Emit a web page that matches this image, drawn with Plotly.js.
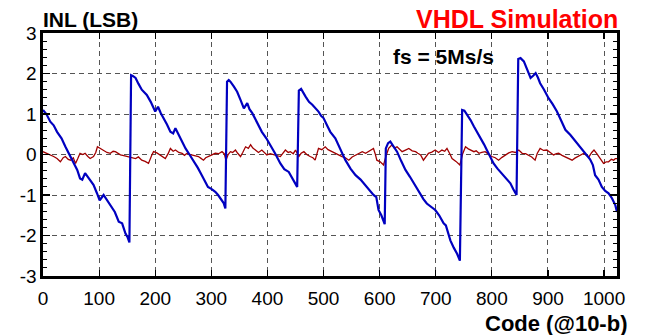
<!DOCTYPE html>
<html><head><meta charset="utf-8">
<script src="https://cdn.plot.ly/plotly-3.0.1.min.js"></script>
<style>html,body{margin:0;padding:0;background:#fff}#chart{width:646px;height:335px}</style>
</head><body><div id="chart"></div>
<script>
// Blue INL curve (code, LSB)
const blueCode = [0,6,13,19,25,33,40,49,55,61,66,70,75,80,90,96,101,108,114,120,128,135,141,147,151,154,157,160,165,170,176,185,192,200,205,210,215,221,227,232,236,241,248,254,261,268,276,283,288,294,300,307,312,316,322,325,328,331,334,340,346,352,358,364,368,373,381,390,398,405,414,423,430,438,445,453,456,460,468,474,480,485,491,496,500,507,512,521,530,539,548,557,566,574,582,589,594,598,603,609,611,615,619,625,631,638,646,654,661,670,678,684,692,699,706,714,718,722,726,732,738,743,747,751,756,762,768,774,780,786,791,797,803,810,818,826,833,838,844,847,851,857,863,869,874,878,882,886,893,901,908,916,923,931,940,949,958,967,975,980,984,990,996,1002,1008,1014,1020,1023];
const blueINL = [1.10,1.00,0.81,0.72,0.56,0.40,0.19,-0.05,-0.22,-0.38,-0.59,-0.62,-0.46,-0.56,-0.75,-0.95,-1.13,-1.00,-1.12,-1.25,-1.42,-1.66,-1.70,-1.95,-2.05,-2.17,1.96,1.94,1.89,1.75,1.60,1.47,1.30,1.06,1.18,1.02,0.90,0.74,0.56,0.52,0.65,0.50,0.32,0.15,0.00,-0.14,-0.33,-0.51,-0.66,-0.80,-0.85,-0.92,-1.00,-1.08,-1.20,-1.33,1.80,1.84,1.80,1.68,1.55,1.35,1.14,1.27,1.12,1.02,0.80,0.56,0.40,0.24,0.02,-0.22,-0.36,-0.43,-0.60,-0.80,1.58,1.62,1.43,1.30,1.23,1.15,1.06,0.95,0.90,0.70,0.56,0.40,0.12,-0.14,-0.35,-0.51,-0.62,-0.75,-0.86,-1.00,-1.05,-1.37,-1.50,-1.72,0.15,0.28,0.32,0.20,0.07,-0.15,-0.38,-0.55,-0.71,-0.95,-1.10,-1.21,-1.30,-1.37,-1.50,-1.70,-1.75,-1.95,-2.12,-2.30,-2.45,-2.62,1.10,1.08,0.98,0.85,0.69,0.55,0.40,0.25,0.11,-0.05,-0.22,-0.35,-0.47,-0.60,-0.71,-0.85,-1.00,2.36,2.38,2.30,2.10,1.89,1.95,2.01,1.90,1.76,1.60,1.39,1.25,1.06,0.85,0.61,0.48,0.32,0.18,0.03,-0.12,-0.26,-0.51,-0.62,-0.80,-0.90,-0.96,-1.08,-1.25,-1.42];
// Dark red INL curve
const redCode = [0,7,13,19,25,31,36,40,45,49,54,58,62,66,71,75,80,84,90,94,97,102,108,114,120,125,129,134,138,144,150,156,161,165,170,176,182,188,194,197,203,209,214,218,223,227,232,236,242,248,252,257,261,265,271,277,281,286,290,295,301,307,313,319,323,326,330,334,338,343,347,352,356,361,366,370,374,378,384,390,395,399,405,411,417,423,428,432,437,441,446,450,456,460,465,470,476,481,485,491,497,503,508,515,521,527,533,539,545,551,557,563,569,575,580,585,589,592,595,601,607,611,616,622,626,631,636,640,646,652,658,664,668,673,678,683,687,693,699,705,711,716,720,725,729,736,743,748,753,758,762,768,772,777,782,788,794,800,806,812,818,824,830,836,842,848,854,860,865,871,877,881,886,892,898,904,910,915,919,925,931,937,943,948,952,958,964,968,973,978,982,987,991,995,999,1004,1008,1013,1017,1020,1023];
const redINL = [0.07,0.03,-0.02,-0.05,-0.10,-0.18,-0.08,-0.05,-0.12,-0.14,-0.08,-0.22,-0.10,0.03,0.00,0.03,-0.05,-0.10,-0.05,0.05,0.19,0.15,0.11,0.05,0.03,0.08,0.07,0.02,-0.01,-0.03,-0.05,-0.08,-0.10,-0.10,-0.06,-0.14,-0.17,-0.22,-0.01,0.07,0.04,-0.01,-0.06,-0.10,0.02,0.15,0.08,0.11,0.05,0.03,-0.02,0.03,0.00,-0.01,-0.02,-0.05,-0.09,-0.14,-0.08,-0.05,0.00,0.03,0.02,0.07,0.02,-0.14,0.00,0.07,0.05,0.11,0.03,-0.05,0.05,0.19,0.15,0.24,0.16,0.11,0.05,0.11,0.04,-0.01,0.02,-0.01,-0.03,-0.05,0.03,0.11,0.05,0.07,0.02,0.11,-0.05,0.03,0.07,0.00,-0.05,-0.08,-0.14,0.15,0.12,0.19,0.12,0.07,0.02,-0.01,-0.05,-0.08,-0.14,-0.06,-0.01,0.03,0.07,0.03,0.07,0.10,0.15,0.02,-0.14,-0.18,-0.26,-0.05,0.15,0.24,0.16,0.19,0.12,0.07,0.11,0.15,0.09,0.07,0.03,-0.01,-0.14,-0.05,0.03,0.06,0.11,0.05,0.11,0.08,0.15,0.02,-0.10,-0.17,-0.26,0.02,0.19,0.14,0.11,0.07,0.09,0.03,0.05,0.07,0.01,-0.05,-0.08,-0.14,-0.07,-0.01,0.04,0.07,0.05,0.11,0.03,0.02,-0.01,-0.06,-0.14,0.03,0.15,0.10,0.11,0.04,-0.01,0.02,0.03,-0.02,-0.06,-0.10,-0.14,-0.09,-0.06,0.00,0.03,-0.02,-0.06,0.05,0.11,0.02,-0.06,-0.14,-0.22,-0.18,-0.18,-0.12,-0.14,-0.10,-0.10];
const xTicks = [0,100,200,300,400,500,600,700,800,900,1000];
const yTicks = [-3,-2,-1,0,1,2,3];

const F = 'Liberation Sans, Arial, sans-serif';
const traces = [
  {x: redCode, y: redINL, type:'scatter', mode:'lines', line:{color:'#a00000', width:1.3}, hoverinfo:'skip'},
  {x: blueCode, y: blueINL, type:'scatter', mode:'lines', line:{color:'#0000c0', width:2.2}, hoverinfo:'skip'}
];
const axisCommon = {
  showline:true, linecolor:'#000', linewidth:2.6, mirror:'ticks',
  ticks:'inside', tickcolor:'#000', tickwidth:1.2,
  showgrid:true, gridcolor:'#555', gridwidth:1, griddash:'5px,4px',
  zeroline:false, tickfont:{family:F, size:19, color:'#000'}
};
const layout = {
  width:646, height:335, showlegend:false,
  paper_bgcolor:'#fff', plot_bgcolor:'#fff',
  margin:{l:42.7, r:29.3, t:33.3, b:59.3, pad:0},
  xaxis: Object.assign({}, axisCommon, {range:[0,1023], tickvals:xTicks, ticktext:xTicks.map(String), ticklen:6, ticklabelstandoff:4}),
  yaxis: Object.assign({}, axisCommon, {range:[-3,3], tickvals:yTicks, ticktext:yTicks.map(String), ticklen:7,
    minor:{dtick:0.2, ticks:'inside', ticklen:4, tickcolor:'#000', tickwidth:1, showgrid:false}}),
  annotations:[
    {text:'<b>INL (LSB)</b>', xref:'paper', yref:'paper', x:0, y:1, xanchor:'left', yanchor:'bottom', xshift:-2, yshift:0, showarrow:false, font:{family:F, size:21, color:'#000'}},
    {text:'<b>VHDL Simulation</b>', xref:'paper', yref:'paper', x:1, y:1, xanchor:'right', yanchor:'bottom', xshift:3, yshift:-2, showarrow:false, font:{family:F, size:25, color:'#ff0000'}},
    {text:'<b>fs = 5Ms/s</b>', xref:'paper', yref:'paper', x:(443-42.7)/574, y:(275.7-57)/242.4, xanchor:'center', yanchor:'middle', showarrow:false, font:{family:F, size:21, color:'#000'}},
    {text:'<b>Code (@10-b)</b>', xref:'paper', yref:'paper', x:1, y:0, xanchor:'right', yanchor:'top', xshift:12, yshift:-33, showarrow:false, font:{family:F, size:22, color:'#000'}}
  ]
};
Plotly.newPlot('chart', traces, layout, {staticPlot:true, displayModeBar:false});
</script></body></html>
